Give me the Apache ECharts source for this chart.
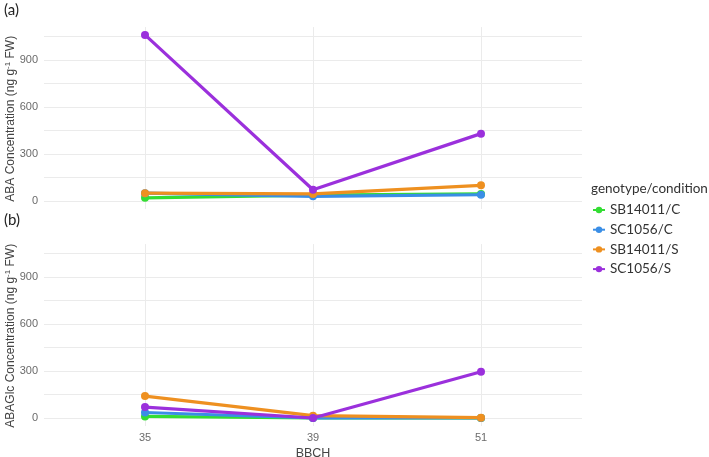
<!DOCTYPE html>
<html>
<head>
<meta charset="utf-8">
<script src="https://cdn.jsdelivr.net/npm/echarts@6/dist/echarts.min.js"></script>
<style>html,body{margin:0;padding:0;background:#fff}#c{width:709px;height:457px}</style>
</head>
<body>
<div id="c"></div>
<script>
// ---- data ----
var categories = ['35', '39', '51'];
var seriesNames = ['SB14011/C', 'SC1056/C', 'SB14011/S', 'SC1056/S'];
var seriesColors = ['#33dd33', '#3a8ee6', '#ee9020', '#9b30dc'];
// panel (a) ABA
var abaSB14011C = [20, 38, 45];
var abaSC1056C = [50, 30, 40];
var abaSB14011S = [50, 45, 100];
var abaSC1056S = [1060, 72, 430];
// panel (b) ABAGlc
var glcSB14011C = [10, 0, 0];
var glcSC1056C = [35, 0, 0];
var glcSB14011S = [140, 15, 2];
var glcSC1056S = [70, 0, 295];
var yTicks = [0, 300, 600, 900];

var abaData = [abaSB14011C, abaSC1056C, abaSB14011S, abaSC1056S];
var glcData = [glcSB14011C, glcSC1056C, glcSB14011S, glcSC1056S];

// ---- layout ----
var k = 47 / 300;           // px per unit
var zeroA = 201, zeroB = 418;
var yMaxGrid = 1050, yMinOv = -51, yMaxOv = 1110;
var gridCol = '#ebebeb';
var labelCol = '#6b6b6b';
var font = 'Liberation Sans, Arial, sans-serif';

function bgGrid(zero) {
  return { left: 44, width: 538, top: zero - yMaxGrid * k, height: yMaxGrid * k,
           containLabel: false, outerBoundsMode: 'none' };
}
function ovGrid(zero) {
  return { left: 145, width: 336, top: zero - yMaxOv * k, height: (yMaxOv - yMinOv) * k,
           containLabel: false, outerBoundsMode: 'none' };
}
var grids = [bgGrid(zeroA), ovGrid(zeroA), bgGrid(zeroB), ovGrid(zeroB)];

function yNameRich(prefix) {
  return '{a|' + prefix + ' Concentration (ng g}{s|-1}{a| FW)}';
}
var richName = {
  a: { fontSize: 12, color: '#444', fontFamily: font },
  s: { fontSize: 8, color: '#444', fontFamily: font, padding: [0, 0, 6, 0] }
};

function bgY(gi, prefix) {
  return {
    type: 'value', gridIndex: gi, min: 0, max: yMaxGrid, interval: 150,
    axisLine: { show: false }, axisTick: { show: false },
    splitLine: { show: true, lineStyle: { color: gridCol, width: 1 } },
    axisLabel: {
      color: labelCol, fontSize: 11, fontFamily: font, margin: 6,
      formatter: function (v) { return yTicks.indexOf(v) >= 0 ? String(v) : ''; }
    },
    name: yNameRich(prefix), nameLocation: 'middle', nameGap: 26, nameRotate: 90,
    nameMoveOverlap: false,
    nameTextStyle: { rich: richName }
  };
}
function ovY(gi) {
  return { type: 'value', gridIndex: gi, min: yMinOv, max: yMaxOv, show: false,
           splitLine: { show: false } };
}
function bgX(gi) {
  return { type: 'value', gridIndex: gi, show: false, min: 0, max: 1, splitLine: { show: false } };
}
function ovX(gi, showLabels) {
  var ax = {
    type: 'category', gridIndex: gi, data: categories, boundaryGap: false,
    axisLine: { show: false }, axisTick: { show: false },
    splitLine: { show: true, lineStyle: { color: gridCol, width: 1 } },
    axisLabel: { show: showLabels, color: labelCol, fontSize: 11, fontFamily: font, margin: 6 }
  };
  if (showLabels) {
    ax.name = 'BBCH'; ax.nameLocation = 'middle'; ax.nameGap = 21;
    ax.nameMoveOverlap = false;
    ax.nameTextStyle = { color: '#444', fontSize: 12.5, fontFamily: font };
  }
  return ax;
}

var series = [];
function addPanel(dataSets, axIdx) {
  dataSets.forEach(function (d, i) {
    series.push({
      name: seriesNames[i], type: 'line', xAxisIndex: axIdx, yAxisIndex: axIdx,
      data: d, symbol: 'circle', symbolSize: 8, clip: false,
      lineStyle: { width: 3.2, color: seriesColors[i] },
      itemStyle: { color: seriesColors[i] },
      emphasis: { disabled: true }, animation: false, z: 2 + i
    });
  });
}
addPanel(abaData, 1);
addPanel(glcData, 3);

var chart = echarts.init(document.getElementById('c'), null, { renderer: 'canvas' });
chart.setOption({
  animation: false,
  backgroundColor: '#fff',
  grid: grids,
  xAxis: [bgX(0), ovX(1, false), bgX(2), ovX(3, true)],
  yAxis: [bgY(0, 'ABA'), ovY(1), bgY(2, 'ABAGlc'), ovY(3)],
  title: [
    { text: 'genotype/condition', left: 591, top: 182, padding: 0,
      textStyle: { fontSize: 13.5, fontWeight: 'normal', color: '#333', fontFamily: 'Lato, sans-serif' } },
    { text: '(a)', left: 4, top: 3, padding: 0,
      textStyle: { fontSize: 15, fontWeight: 'normal', color: '#222', fontFamily: 'Lato, sans-serif' } },
    { text: '(b)', left: 4, top: 213, padding: 0,
      textStyle: { fontSize: 15, fontWeight: 'normal', color: '#222', fontFamily: 'Lato, sans-serif' } }
  ],
  legend: {
    orient: 'vertical', left: 592, top: 203, padding: 0,
    itemWidth: 12, itemHeight: 8, itemGap: 5.7,
    data: seriesNames,
    textStyle: { fontSize: 13.5, color: '#333', fontFamily: 'Lato, sans-serif' }
  },
  series: series
});
</script>
</body>
</html>
